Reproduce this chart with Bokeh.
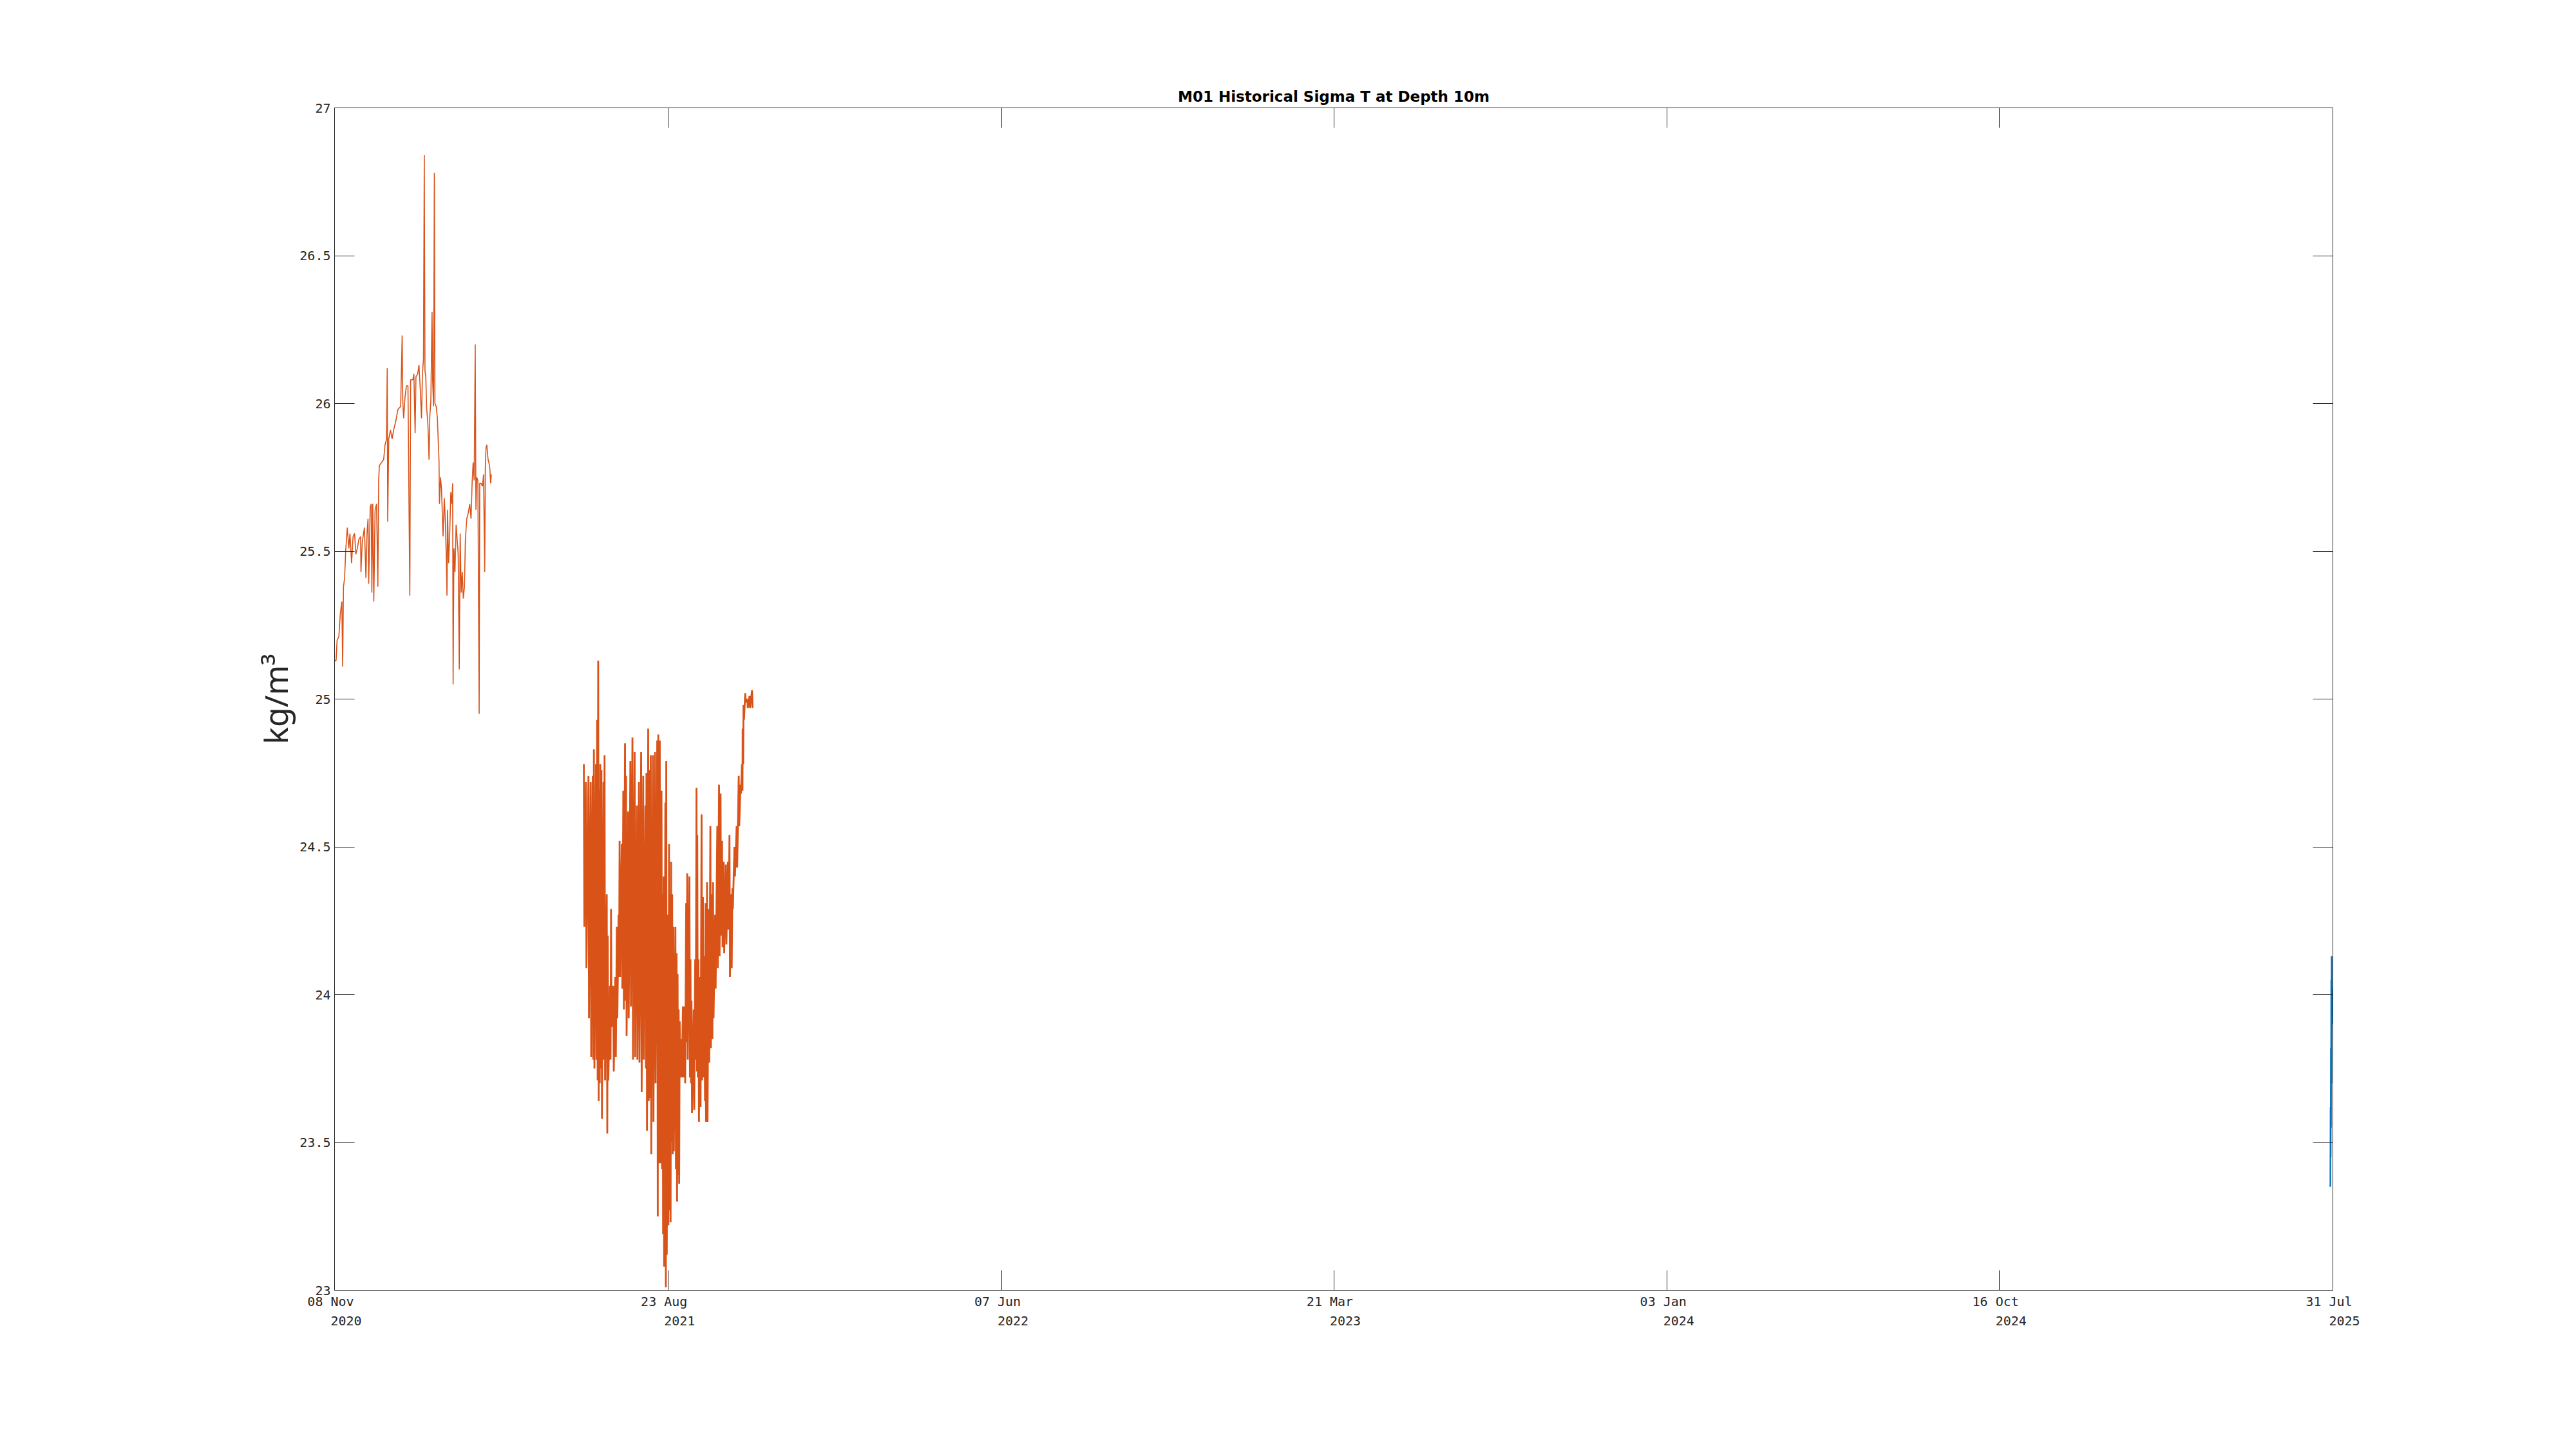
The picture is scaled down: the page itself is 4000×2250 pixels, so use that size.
import numpy as np
from datetime import datetime, timezone
from bokeh.plotting import figure
from bokeh.models import Range1d, FixedTicker, CustomJSTickFormatter, LinearAxis
from bokeh.embed import file_html
from bokeh.resources import INLINE

# ---------------- data ----------------
title_text = "M01 Historical Sigma T at Depth 10m"
y_label = "kg/m\u00b3"
origin_date = "2020-11-08"          # day 0 of the day offsets below
end_date = "2025-07-31"

x_tick_dates = ["2020-11-08", "2021-08-23", "2022-06-07", "2023-03-21",
                "2024-01-03", "2024-10-16", "2025-07-31"]
x_tick_daymonth = ["08 Nov", "23 Aug", "07 Jun", "21 Mar", "03 Jan", "16 Oct", "31 Jul"]
x_tick_years = ["2020", "2021", "2022", "2023", "2024", "2024", "2025"]
y_ticks = [23, 23.5, 24, 24.5, 25, 25.5, 26, 26.5, 27]
y_min, y_max = 23, 27

# older deployment, part 1 (days since origin, sigma-T)
seg1_days = [0, 1.3, 2.2, 3.7, 5.0, 6.3, 7.0, 7.7, 8.7, 9.6,
             11.0, 12.3, 13.3, 14.7, 16.0, 17.3, 18.4, 19.7, 21.0, 22.5,
             22.8, 23.9, 25.8, 27.1, 28.0, 28.9, 29.5, 30.8, 31.7, 32.2,
             33.0, 33.9, 35.0, 36.3, 37.4, 38.1, 38.7, 40.5, 42.4, 43.6,
             44.9, 45.5, 45.9, 46.8, 48.3, 49.7, 51.0, 52.9, 54.7, 57.1,
             58.4, 58.9, 59.7, 60.8, 62.1, 63.4, 65.0, 65.7, 67.6, 68.5,
             69.6, 70.3, 71.8, 72.9, 74.0, 75.1, 75.9, 76.8, 77.5, 78.1,
             78.8, 79.6, 80.5, 81.0, 81.6, 82.3, 83.2, 84.2, 84.7, 85.5,
             86.2, 86.7, 87.8, 88.8, 89.7, 90.2, 90.6, 91.5, 92.4, 93.7,
             94.8, 95.8, 96.5, 97.1, 97.6, 98.5, 99.4, 100.4, 101.3, 102.0,
             102.4, 103.1, 104.0, 105.0, 105.9, 106.8, 107.7, 108.5, 109.4, 110.3,
             111.2, 112.2, 113.0, 114.2, 115.5, 116.8, 117.9, 118.8, 119.7, 120.6,
             121.5, 122.1, 122.8, 123.8, 124.9, 125.4, 126.5, 127.8, 128.7, 129.7,
             130.2, 130.8, 131.5, 132.6, 133.3, 134.1, 134.8, 135.4]
seg1_vals = [25.13, 25.13, 25.20, 25.21, 25.29, 25.33, 25.11, 25.38, 25.41, 25.50,
             25.58, 25.51, 25.56, 25.46, 25.55, 25.56, 25.49, 25.51, 25.54, 25.55,
             25.43, 25.53, 25.58, 25.41, 25.56, 25.61, 25.39, 25.65, 25.66, 25.36,
             25.66, 25.33, 25.64, 25.66, 25.38, 25.74, 25.79, 25.80, 25.81, 25.86,
             25.88, 26.12, 25.60, 25.88, 25.91, 25.88, 25.91, 25.94, 25.98, 25.99,
             26.23, 26.01, 25.95, 26.02, 26.06, 26.06, 25.35, 26.08, 26.08, 26.10,
             25.90, 26.09, 26.10, 26.13, 26.05, 25.95, 26.10, 26.15, 26.84, 26.11,
             26.09, 25.98, 25.94, 25.89, 25.81, 25.96, 26.01, 26.31, 26.08, 25.99,
             26.78, 26.00, 25.99, 25.95, 25.86, 25.81, 25.66, 25.75, 25.71, 25.55,
             25.68, 25.59, 25.48, 25.35, 25.64, 25.46, 25.55, 25.70, 25.66, 25.73,
             25.05, 25.51, 25.43, 25.59, 25.54, 25.49, 25.10, 25.56, 25.36, 25.43,
             25.34, 25.38, 25.54, 25.61, 25.63, 25.66, 25.61, 25.73, 25.80, 25.74,
             26.20, 25.64, 25.75, 25.74, 24.95, 25.73, 25.73, 25.72, 25.76, 25.43,
             25.78, 25.85, 25.86, 25.81, 25.80, 25.78, 25.73, 25.76]

# older deployment, part 2: noisy record, read as high / low swings per day
seg2_days = [215.3, 217.1, 219.3, 221.2, 223.0, 224.0, 225.8, 226.8, 227.7, 228.6,
             229.5, 230.5, 232.3, 233.2, 235.1, 236.0, 237.9, 238.8, 240.7, 242.5,
             243.8, 245.3, 246.2, 248.1, 249.4, 250.9, 251.8, 253.6, 255.5, 257.3,
             259.2, 261.1, 262.9, 264.8, 266.6, 268.5, 269.4, 270.9, 272.2, 273.1,
             275.0, 276.8, 278.7, 279.6, 280.9, 282.4, 283.3, 284.2, 285.7, 286.5,
             287.9, 288.9, 289.8, 290.7, 291.6, 292.6, 294.4, 295.4, 296.3, 297.2,
             298.1, 299.4, 300.9, 302.4, 303.7, 304.6, 306.5, 307.4, 308.3, 310.2,
             311.5, 312.6, 313.3, 314.3, 315.7, 317.0, 318.2, 319.5, 320.4, 321.7,
             323.2, 324.6, 325.9, 326.9, 328.7, 330.6, 332.1, 333.4, 334.7, 336.1,
             338.0, 339.8, 341.1, 342.6, 343.6, 345.4, 347.3, 349.1, 350.6, 351.9,
             352.5, 353.2, 354.7, 356.5, 358.4, 360.6]
seg2_high = [24.78, 24.72, 24.74, 24.72, 24.74, 24.83, 24.78, 24.93, 25.13, 24.69,
             24.78, 24.76, 24.72, 24.81, 24.34, 24.20, 24.03, 24.29, 24.03, 24.06,
             24.23, 24.27, 24.52, 24.51, 24.69, 24.85, 24.74, 24.62, 24.79, 24.87,
             24.82, 24.64, 24.72, 24.82, 24.74, 24.64, 24.75, 24.90, 24.76, 24.81,
             24.81, 24.82, 24.86, 24.88, 24.86, 24.69, 24.34, 24.40, 24.65, 24.79,
             24.27, 24.51, 24.34, 24.45, 24.34, 24.23, 24.23, 24.14, 24.07, 23.95,
             23.91, 23.85, 23.96, 23.96, 24.31, 24.41, 24.40, 24.12, 23.98, 23.95,
             24.12, 24.70, 24.54, 24.12, 24.06, 24.61, 24.33, 24.13, 24.31, 24.38,
             24.29, 24.57, 24.34, 24.38, 24.27, 24.57, 24.71, 24.68, 24.52, 24.45,
             24.44, 24.45, 24.54, 24.34, 24.36, 24.50, 24.57, 24.74, 24.71, 24.78,
             24.90, 24.98, 25.02, 25.00, 25.01, 25.03]
seg2_low = [24.23, 24.09, 23.92, 23.79, 23.78, 23.75, 23.78, 23.71, 23.64, 23.70,
            23.75, 23.58, 23.78, 23.71, 23.53, 23.71, 23.78, 23.89, 23.74, 23.79,
            23.92, 24.06, 24.06, 24.02, 23.95, 23.98, 23.86, 23.92, 23.96, 23.78,
            23.79, 23.78, 23.77, 23.67, 23.78, 23.75, 23.54, 23.64, 23.65, 23.46,
            23.57, 23.70, 23.25, 23.43, 23.43, 23.41, 23.19, 23.08, 23.01, 23.12,
            23.22, 23.27, 23.23, 23.50, 23.46, 23.47, 23.41, 23.30, 23.39, 23.36,
            23.72, 23.72, 23.72, 23.70, 23.84, 23.78, 23.72, 23.70, 23.60, 23.61,
            23.78, 23.74, 23.72, 23.57, 23.62, 23.71, 23.72, 23.64, 23.57, 23.57,
            23.77, 23.82, 23.85, 23.92, 24.02, 24.09, 24.13, 24.20, 24.16, 24.14,
            24.17, 24.22, 24.06, 24.09, 24.29, 24.40, 24.43, 24.57, 24.68, 24.69,
            24.78, 24.93, 24.99, 24.97, 24.97, 24.97]

# current deployment (last days of July 2025)
recent_days = [1723.8, 1724.0, 1724.1, 1724.3, 1724.4, 1724.6, 1724.7, 1724.9, 1725.0, 1725.2]
recent_vals = [23.35, 23.62, 23.45, 23.82, 23.55, 24.05, 23.70, 24.13, 23.90, 24.02]

# ---------------- build ----------------
DAY_MS = 86400000.0


def to_ms(s):
    return datetime.strptime(s, "%Y-%m-%d").replace(tzinfo=timezone.utc).timestamp() * 1000.0


origin_ms = to_ms(origin_date)
end_ms = to_ms(end_date)
tick_ms = [to_ms(d) for d in x_tick_dates]
NB = "\u00a0"
tick_labels = [dm + NB + "\n" + NB * 3 + yr for dm, yr in zip(x_tick_daymonth, x_tick_years)]

x1 = origin_ms + np.array(seg1_days) * DAY_MS
y1 = np.array(seg1_vals)

x2 = []
y2 = []
for d, hi, lo in zip(seg2_days, seg2_high, seg2_low):
    x2 += [origin_ms + d * DAY_MS, origin_ms + (d + 0.45) * DAY_MS]
    y2 += [hi, lo]

x3 = origin_ms + np.array(recent_days) * DAY_MS
y3 = np.array(recent_vals)

AXIS_COLOR = "#262626"
ORANGE = "#D95319"
BLUE = "#0072BD"

p = figure(width=3984, height=2234, x_axis_type="datetime",
           x_range=Range1d(origin_ms, end_ms), y_range=Range1d(y_min, y_max),
           output_backend="svg", toolbar_location=None,
           min_border_left=519, min_border_right=362,
           min_border_top=167, min_border_bottom=231)
p.background_fill_color = "white"
p.border_fill_color = "white"
p.outline_line_color = AXIS_COLOR
p.xgrid.visible = False
p.ygrid.visible = False

p.title.text = title_text
p.title.align = "center"
p.title.text_font = "DejaVu Sans"
p.title.text_font_style = "bold"
p.title.text_font_size = "23px"
p.title.text_color = "black"
p.title.standoff = 10

p.line(x1, y1, color=ORANGE, line_width=1.6)
p.line(x2, y2, color=ORANGE, line_width=2.8)
p.line(x3, y3, color=BLUE, line_width=2.4)

x_fmt = CustomJSTickFormatter(args=dict(tick_pos=tick_ms, tick_text=tick_labels), code="""
    let best = 0;
    for (let i = 1; i < tick_pos.length; i++) {
        if (Math.abs(tick_pos[i] - tick) < Math.abs(tick_pos[best] - tick)) best = i;
    }
    return tick_text[best];
""")
y_fmt = CustomJSTickFormatter(code="""
    return Number.isInteger(tick) ? tick.toFixed(0) : tick.toFixed(1);
""")
blank_fmt = CustomJSTickFormatter(code="return '';")


def style_axis(ax):
    ax.axis_line_color = AXIS_COLOR
    ax.major_tick_line_color = AXIS_COLOR
    ax.major_tick_in = 31
    ax.major_tick_out = 0
    ax.minor_tick_line_color = None
    ax.major_label_text_font = "DejaVu Sans Mono"
    ax.major_label_text_font_size = "20px"
    ax.major_label_text_color = AXIS_COLOR


xa = p.xaxis[0]
xa.ticker = FixedTicker(ticks=tick_ms)
xa.formatter = x_fmt
style_axis(xa)
xa.major_label_standoff = 5
xa.major_label_text_line_height = 1.25

ya = p.yaxis[0]
ya.ticker = FixedTicker(ticks=y_ticks)
ya.formatter = y_fmt
style_axis(ya)
ya.major_label_standoff = 6
ya.axis_label = y_label
ya.axis_label_text_font = "Noto Sans"
ya.axis_label_text_font_size = "50px"
ya.axis_label_text_font_style = "normal"
ya.axis_label_text_color = AXIS_COLOR
ya.axis_label_standoff = 0

top = LinearAxis(ticker=FixedTicker(ticks=tick_ms), formatter=blank_fmt)
style_axis(top)
top.major_label_text_font_size = "0px"
top.major_label_standoff = 0
p.add_layout(top, "above")

right = LinearAxis(ticker=FixedTicker(ticks=y_ticks), formatter=blank_fmt)
style_axis(right)
right.major_label_text_font_size = "0px"
right.major_label_standoff = 0
p.add_layout(right, "right")

open("out.html", "w").write(file_html(p, INLINE))
